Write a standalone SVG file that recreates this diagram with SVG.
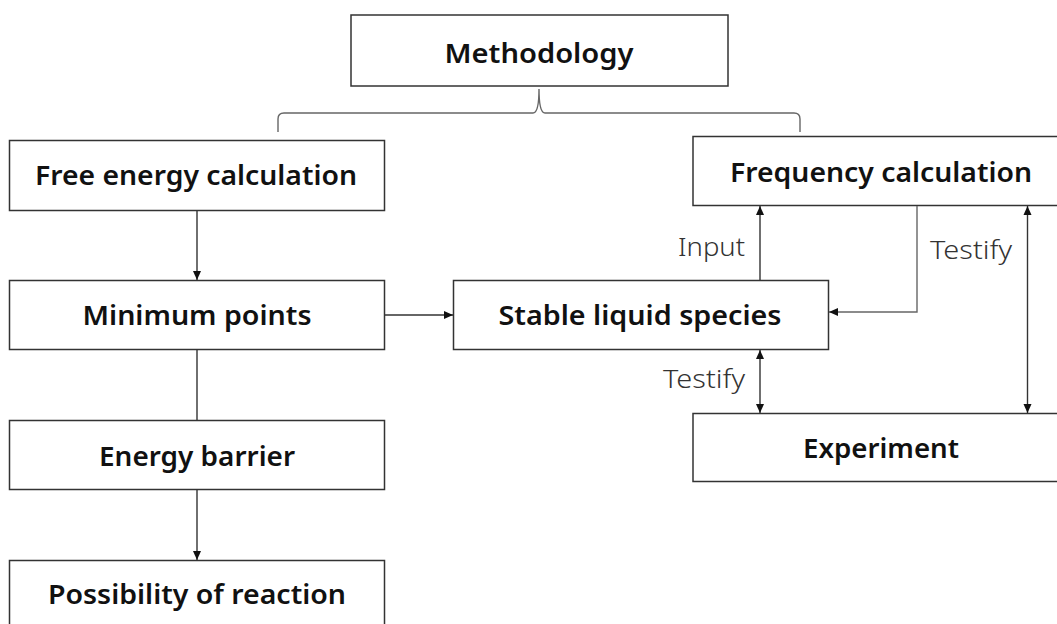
<svg xmlns="http://www.w3.org/2000/svg" width="1057" height="624" viewBox="0 0 1057 624">
<style>
.box{fill:#fff;stroke:#333;stroke-width:1.5}
.t{font-family:"Noto Sans","Liberation Sans",sans-serif;font-weight:600;font-size:27px;fill:#111;text-anchor:middle}
.lb{font-family:"Noto Sans","Liberation Sans",sans-serif;font-weight:300;font-size:26px;fill:#333}
.c{fill:none;stroke:#333;stroke-width:1.4}
.g{fill:none;stroke:#666;stroke-width:1.4}
</style>
<defs>
<marker id="ah" markerUnits="userSpaceOnUse" markerWidth="10" markerHeight="10" viewBox="0 0 10 10" refX="9" refY="5" orient="auto-start-reverse">
<path d="M0,1 L9,5 L0,9 Z" fill="#111"/>
</marker>
</defs>
<rect width="1057" height="624" fill="#fff"/>
<g id="methodology">
<rect class="box" x="351" y="15" width="377" height="71"/>
<text class="t" x="539" y="63" textLength="189" lengthAdjust="spacingAndGlyphs">Methodology</text>
</g>
<g id="free-energy">
<rect class="box" x="9.5" y="140.5" width="375" height="70"/>
<text class="t" x="196" y="185" textLength="322" lengthAdjust="spacingAndGlyphs">Free energy calculation</text>
</g>
<g id="minimum-points">
<rect class="box" x="9.5" y="280.5" width="375" height="69"/>
<text class="t" x="197" y="325" textLength="229" lengthAdjust="spacingAndGlyphs">Minimum points</text>
</g>
<g id="energy-barrier">
<rect class="box" x="9.5" y="420.5" width="375" height="69"/>
<text class="t" x="197" y="466" textLength="196" lengthAdjust="spacingAndGlyphs">Energy barrier</text>
</g>
<g id="possibility">
<rect class="box" x="9.5" y="560.5" width="375" height="70"/>
<text class="t" x="197" y="604" textLength="298" lengthAdjust="spacingAndGlyphs">Possibility of reaction</text>
</g>
<g id="stable-liquid">
<rect class="box" x="453.5" y="280.5" width="375" height="69"/>
<text class="t" x="640" y="325" textLength="283" lengthAdjust="spacingAndGlyphs">Stable liquid species</text>
</g>
<g id="frequency">
<rect class="box" x="693" y="136.5" width="376" height="69"/>
<text class="t" x="881" y="181.5" textLength="302" lengthAdjust="spacingAndGlyphs">Frequency calculation</text>
</g>
<g id="experiment">
<rect class="box" x="693" y="413.5" width="376" height="68"/>
<text class="t" x="881" y="458" textLength="156" lengthAdjust="spacingAndGlyphs">Experiment</text>
</g>
<g id="connectors">
<path class="g" d="M278,132 L278,119 Q278,113 284,113 L533,113 Q539,113 539,89 Q539,113 545,113 L794,113 Q800,113 800,119 L800,132"/>
<line class="c" x1="197" y1="211" x2="197" y2="280" marker-end="url(#ah)"/>
<line class="c" x1="385" y1="315" x2="453" y2="315" marker-end="url(#ah)"/>
<line class="c" x1="197" y1="350" x2="197" y2="420"/>
<line class="c" x1="197" y1="490" x2="197" y2="560" marker-end="url(#ah)"/>
<line class="c" x1="760" y1="280" x2="760" y2="206" marker-end="url(#ah)"/>
<path class="g" d="M917,206 L917,312 L829,312" marker-end="url(#ah)"/>
<line class="c" x1="760" y1="350" x2="760" y2="413" marker-start="url(#ah)" marker-end="url(#ah)"/>
<line class="c" x1="1027.5" y1="206" x2="1027.5" y2="413" marker-start="url(#ah)" marker-end="url(#ah)"/>
<text class="lb" x="678" y="256" textLength="67" lengthAdjust="spacingAndGlyphs">Input</text>
<text class="lb" x="930" y="259" textLength="82" lengthAdjust="spacingAndGlyphs">Testify</text>
<text class="lb" x="663" y="388" textLength="82" lengthAdjust="spacingAndGlyphs">Testify</text>
</g>
</svg>
